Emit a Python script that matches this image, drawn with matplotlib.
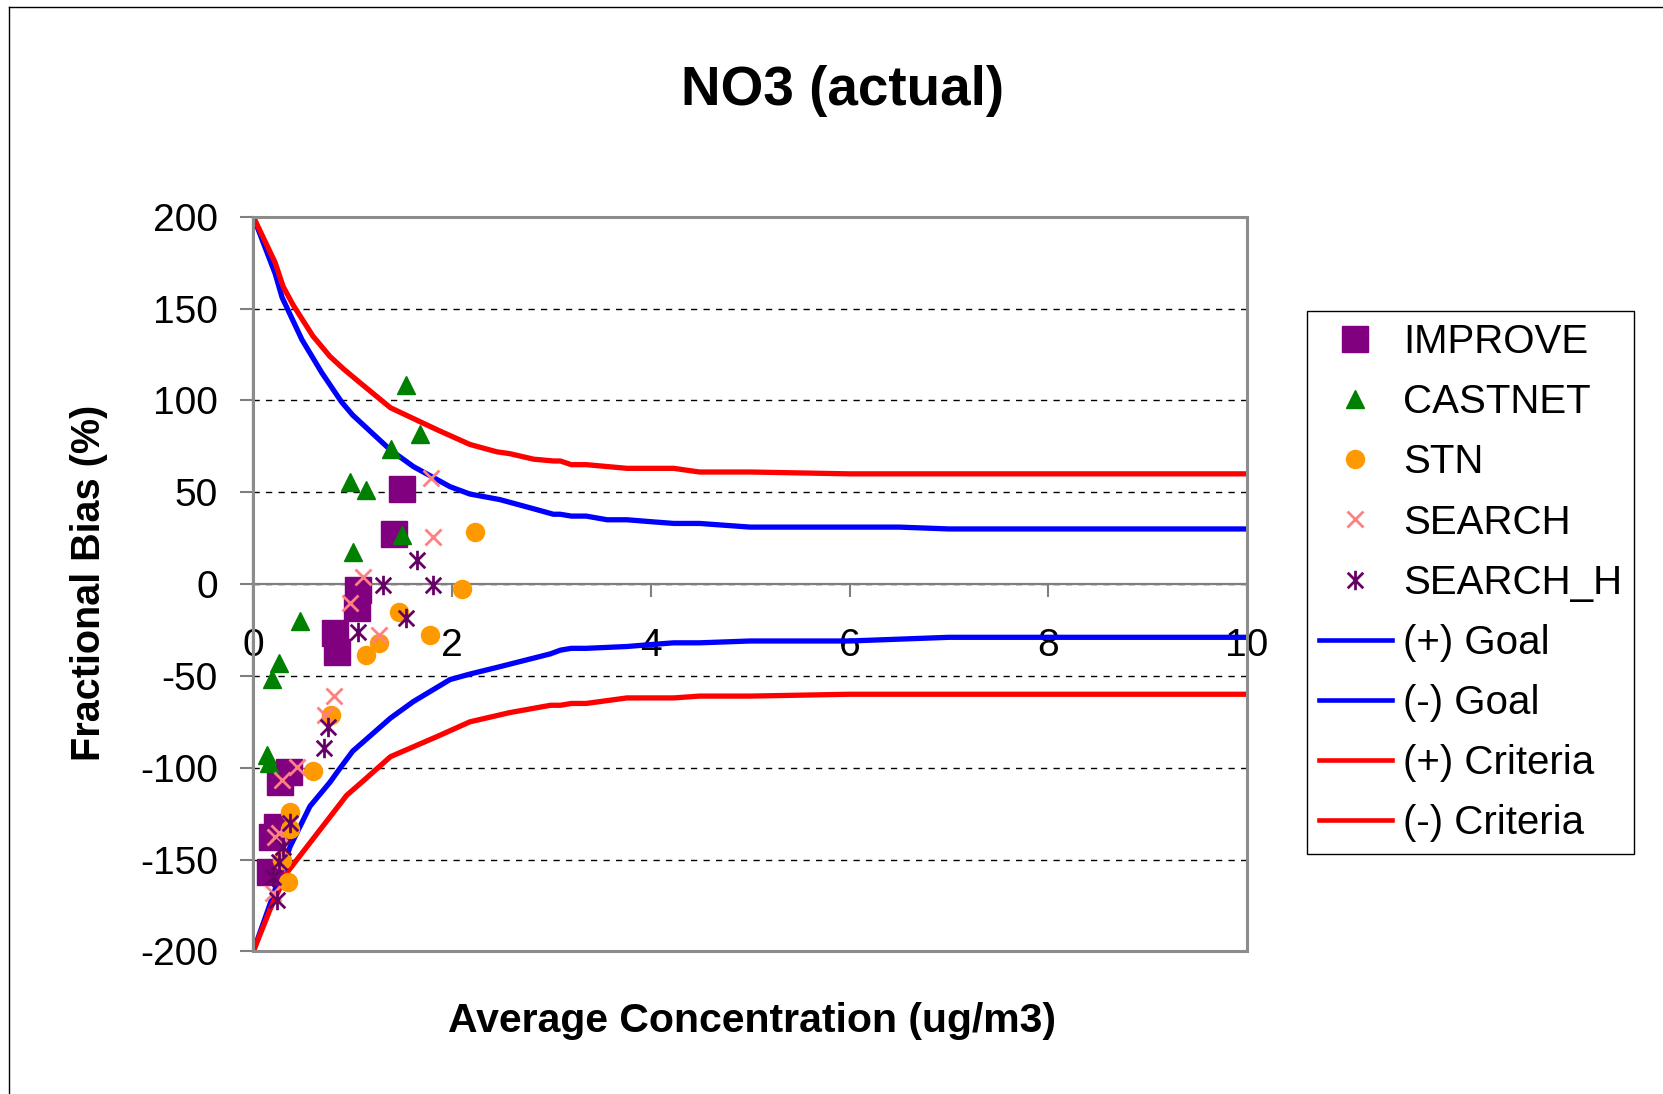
import matplotlib
matplotlib.use('Agg')
import matplotlib.pyplot as plt
from matplotlib.path import Path
from matplotlib.lines import Line2D
from matplotlib.patches import Rectangle

plt.rcParams['font.family'] = ['Liberation Sans', 'DejaVu Sans']
plt.rcParams['axes.unicode_minus'] = False

# ---------------- data ----------------
improve_x = [1.50, 1.42, 1.05, 1.04, 0.82, 0.84, 0.27, 0.36, 0.24, 0.19, 0.17]
improve_y = [51.6, 27.1, -3.2, -13.2, -26.4, -36.8, -107.6, -102.1, -132.0, -137.5, -156.6]

castnet_x = [1.54, 1.68, 1.39, 0.97, 1.13, 1.50, 1.00, 0.47, 0.26, 0.19, 0.135, 0.155]
castnet_y = [108.4, 81.7, 73.4, 55.4, 51.2, 26.7, 17.3, -19.9, -43.1, -51.7, -93.0, -97.6]

stn_x = [2.23, 2.10, 1.47, 1.78, 1.13, 1.26, 0.78, 0.60, 0.37, 0.37, 0.29, 0.35]
stn_y = [28.5, -2.9, -15.4, -27.7, -38.6, -31.9, -71.3, -101.7, -123.9, -133.5, -150.2, -162.3]

search_x = [1.79, 1.81, 1.10, 0.97, 1.26, 0.81, 0.72, 0.44, 0.29, 0.22, 0.26, 0.20]
search_y = [57.6, 25.8, 4.0, -10.1, -27.7, -60.7, -71.3, -99.4, -106.6, -137.5, -135.7, -168.3]

searchh_x = [1.65, 1.31, 1.81, 1.54, 1.05, 0.755, 0.71, 0.37, 0.30, 0.26, 0.20, 0.235]
searchh_y = [13.1, -0.5, -0.5, -18.3, -25.9, -77.6, -89.4, -130.2, -143.0, -151.1, -159.3, -172.0]

goal_pos_x = [0, 0.22, 0.29, 0.49, 0.69, 0.89, 1.0, 1.38, 1.61, 1.98, 2.18, 2.48, 2.82,
              3.02, 3.09, 3.2, 3.35, 3.56, 3.76, 3.99, 4.23, 4.49, 5.0, 6.0, 6.5, 7.0, 10.0]
goal_pos_y = [200, 169, 156, 133, 115, 99, 92, 73, 64, 53, 49, 46, 41,
              38, 38, 37, 37, 35, 35, 34, 33, 33, 31, 31, 31, 30, 30]

goal_neg_x = [0, 0.17, 0.37, 0.57, 0.77, 0.89, 1.0, 1.38, 1.61, 1.98, 2.18, 2.48, 2.99,
              3.09, 3.2, 3.35, 3.76, 3.99, 4.23, 4.49, 5.0, 6.0, 6.5, 7.0, 10.0]
goal_neg_y = [-200, -174, -143, -121, -108, -99, -91, -73, -64, -52, -49, -45, -38,
              -36, -35, -35, -34, -33, -32, -32, -31, -31, -30, -29, -29]

crit_pos_x = [0, 0.22, 0.30, 0.40, 0.60, 0.77, 0.91, 1.11, 1.38, 1.85, 2.18, 2.45, 2.58,
              2.82, 3.02, 3.09, 3.2, 3.35, 3.76, 4.23, 4.49, 5.0, 6.0, 10.0]
crit_pos_y = [200, 175, 162, 152, 135, 124, 117, 108, 96, 84, 76, 72, 71,
              68, 67, 67, 65, 65, 63, 63, 61, 61, 60, 60]

crit_neg_x = [0, 0.17, 0.34, 0.64, 0.94, 1.11, 1.38, 1.85, 2.18, 2.58, 2.99, 3.09, 3.2,
              3.35, 3.76, 4.23, 4.49, 5.0, 6.0, 10.0]
crit_neg_y = [-200, -177, -157, -136, -115, -107, -94, -83, -75, -70, -66, -66, -65,
              -65, -62, -62, -61, -61, -60, -60]

x_ticks = [0, 2, 4, 6, 8, 10]
y_ticks = [-200, -150, -100, -50, 0, 50, 100, 150, 200]

# ---------------- figure ----------------
W, H = 1663, 1094
fig = plt.figure(figsize=(W / 100, H / 100), dpi=100)
L, R, T, B = 253.3, 1247, 216.7, 951.4
ax = fig.add_axes([L / W, 1 - B / H, (R - L) / W, (B - T) / H])

ax.set_xlim(0, 10)
ax.set_ylim(-200, 200)
ax.set_xticks(x_ticks)
ax.set_yticks(y_ticks)

for s in ['top', 'right']:
    ax.spines[s].set_visible(False)
ax.spines['bottom'].set_position(('data', 0))
ax.spines['bottom'].set_color('#7f7f7f')
ax.spines['bottom'].set_linewidth(1.6)
ax.spines['left'].set_color('#7f7f7f')
ax.spines['left'].set_linewidth(1.6)
ax.add_patch(Rectangle((0, 0), 1, 1, transform=ax.transAxes, fill=False,
                       edgecolor='#8c8c8c', lw=2.2, zorder=3, clip_on=False))

ax.yaxis.grid(True, linestyle=(0, (4.5, 4.5)), color='black', lw=1.0, zorder=0)
ax.set_axisbelow(True)

ax.tick_params(axis='y', direction='out', length=9.5, width=1.5, color='#7f7f7f',
               labelsize=28, pad=16)
ax.tick_params(axis='x', direction='out', length=9, width=1.5, color='#7f7f7f',
               labelsize=28, pad=23)

lw = 3.8
h_gp, = ax.plot(goal_pos_x, goal_pos_y, color='#0000ff', lw=lw, label='(+) Goal', zorder=2)
h_gn, = ax.plot(goal_neg_x, goal_neg_y, color='#0000ff', lw=lw, label='(-) Goal', zorder=2)
h_cp, = ax.plot(crit_pos_x, crit_pos_y, color='#ff0000', lw=lw, label='(+) Criteria', zorder=2)
h_cn, = ax.plot(crit_neg_x, crit_neg_y, color='#ff0000', lw=lw, label='(-) Criteria', zorder=2)

ast = Path([(-0.8, -0.8), (0.8, 0.8), (-0.8, 0.8), (0.8, -0.8), (0, -1), (0, 1)],
           [Path.MOVETO, Path.LINETO, Path.MOVETO, Path.LINETO, Path.MOVETO, Path.LINETO])

h_imp, = ax.plot(improve_x, improve_y, ls='none', marker='s', ms=18.5, color='#800080',
                 label='IMPROVE', zorder=4)
h_cas, = ax.plot(castnet_x, castnet_y, ls='none', marker='^', ms=13.5, color='#008000',
                 label='CASTNET', zorder=4)
h_stn, = ax.plot(stn_x, stn_y, ls='none', marker='o', ms=13, color='#ff9900',
                 label='STN', zorder=4)
h_sea, = ax.plot(search_x, search_y, ls='none', marker='x', ms=12, mew=2, color='#ff8080',
                 label='SEARCH', zorder=4)
h_seh, = ax.plot(searchh_x, searchh_y, ls='none', marker=ast, ms=14, mew=2,
                 color='#660066', fillstyle='none', label='SEARCH_H', zorder=4)

handles = [h_imp, h_cas, h_stn, h_sea, h_seh, h_gp, h_gn, h_cp, h_cn]
leg = ax.legend(handles=handles, loc='upper left', bbox_to_anchor=(1307 / W, 1 - 311 / H),
                bbox_transform=fig.transFigure, borderaxespad=0, fontsize=29,
                frameon=True, fancybox=False, edgecolor='black', framealpha=1,
                handlelength=1.8, handletextpad=0.28, labelspacing=0.55, borderpad=0.3)
leg.get_frame().set_linewidth(1.0)
for ln in leg.get_lines()[5:]:
    ln.set_linewidth(3.3)

fig.text(843 / W, 1 - 91 / H, 'NO3 (actual)', ha='center', va='center',
         fontsize=39.5, fontweight='bold')
fig.text(89 / W, 1 - 583 / H, 'Fractional Bias (%)', ha='center', va='center',
         rotation=90, fontsize=28.5, fontweight='bold')
fig.text(752 / W, 1 - 1021 / H, 'Average Concentration (ug/m3)', ha='center', va='center',
         fontsize=29.5, fontweight='bold')

fig.add_artist(Line2D([9 / W, 9 / W], [0, 1 - 7 / H], transform=fig.transFigure,
                      color='black', lw=1))
fig.add_artist(Line2D([9 / W, 1], [1 - 7 / H, 1 - 7 / H], transform=fig.transFigure,
                      color='black', lw=1))

fig.savefig('out.png', dpi=100)
